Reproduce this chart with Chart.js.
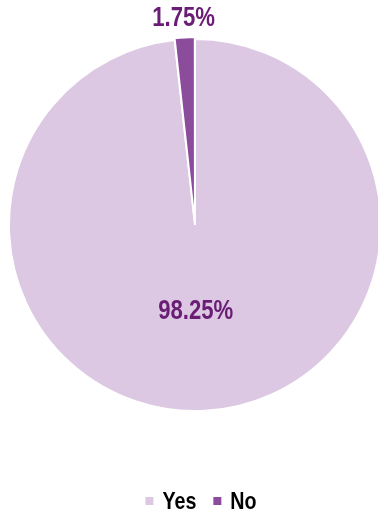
<!DOCTYPE html>
<html>
<head>
<meta charset="utf-8">
<script src="https://cdn.jsdelivr.net/npm/chart.js@4/dist/chart.umd.min.js"></script>
<style>
  html, body { margin: 0; padding: 0; background: #fff; }
  #wrap { width: 378px; height: 514px; position: relative; }
</style>
</head>
<body>
<div id="wrap"><canvas id="answerChart" width="378" height="514"></canvas></div>
<script>
const answerLabels = ["Yes", "No"];
const answerShares = [98.25, 1.75];
const answerColors = ["#dcc8e2", "#8b4c9b"];

const FONT = "'Liberation Sans', Arial, sans-serif";
const NARROW = 0.82; // squeeze Liberation Sans to a narrow face
const LABEL_COLOR = "#6a1d74";

function narrowText(ctx, text, x, y, align) {
  ctx.save();
  ctx.translate(x, y);
  ctx.scale(NARROW, 1);
  ctx.textAlign = align;
  ctx.fillText(text, 0, 0);
  ctx.restore();
}

// percentage on each slice: inside the big one, just past the rim for the small one
const sliceLabels = {
  id: "sliceLabels",
  afterDatasetsDraw(chart) {
    const ctx = chart.ctx;
    const arcs = chart.getDatasetMeta(0).data;
    ctx.save();
    ctx.font = "bold 27px " + FONT;
    ctx.fillStyle = LABEL_COLOR;
    ctx.textBaseline = "middle";
    arcs.forEach((arc, i) => {
      const { x, y, startAngle, endAngle, outerRadius } = arc.getProps(["x", "y", "startAngle", "endAngle", "outerRadius"], true);
      const mid = (startAngle + endAngle) / 2;
      const small = answerShares[i] < 10;
      const dist = small ? outerRadius + 22 : outerRadius * 0.46;
      const lx = x + Math.cos(mid) * dist - (small ? 0 : 4);
      const ly = y + Math.sin(mid) * dist + 1;
      narrowText(ctx, answerShares[i].toFixed(2) + "%", lx, ly, "center");
    });
    ctx.restore();
  }
};

// legend row under the pie, in the bottom padding
const bottomLegend = {
  id: "bottomLegend",
  afterDraw(chart) {
    const ctx = chart.ctx;
    const box = 8, gapText = 9, gapItem = 17, y = 501;
    ctx.save();
    ctx.font = "bold 24px " + FONT;
    ctx.textBaseline = "middle";
    const widths = answerLabels.map((l) => ctx.measureText(l).width * NARROW);
    const total = widths.reduce((s, w) => s + box + gapText + w, 0) + gapItem * (answerLabels.length - 1);
    let x = 201 - total / 2;
    answerLabels.forEach((label, i) => {
      ctx.fillStyle = answerColors[i];
      ctx.fillRect(x, y - box / 2, box, box);
      x += box + gapText;
      ctx.fillStyle = "#000";
      narrowText(ctx, label, x, y + 1, "left");
      x += widths[i] + gapItem;
    });
    ctx.restore();
  }
};

new Chart(document.getElementById("answerChart"), {
  type: "pie",
  data: {
    labels: answerLabels,
    datasets: [{
      data: answerShares,
      backgroundColor: answerColors,
      borderColor: "#ffffff",
      borderWidth: 2,
      offset: [0, 4],
      radius: 186
    }]
  },
  options: {
    responsive: false,
    animation: false,
    layout: { padding: { left: 12, right: 0, top: 0, bottom: 64 } },
    plugins: {
      tooltip: { enabled: false },
      legend: { display: false }
    }
  },
  plugins: [sliceLabels, bottomLegend]
});
</script>
</body>
</html>
